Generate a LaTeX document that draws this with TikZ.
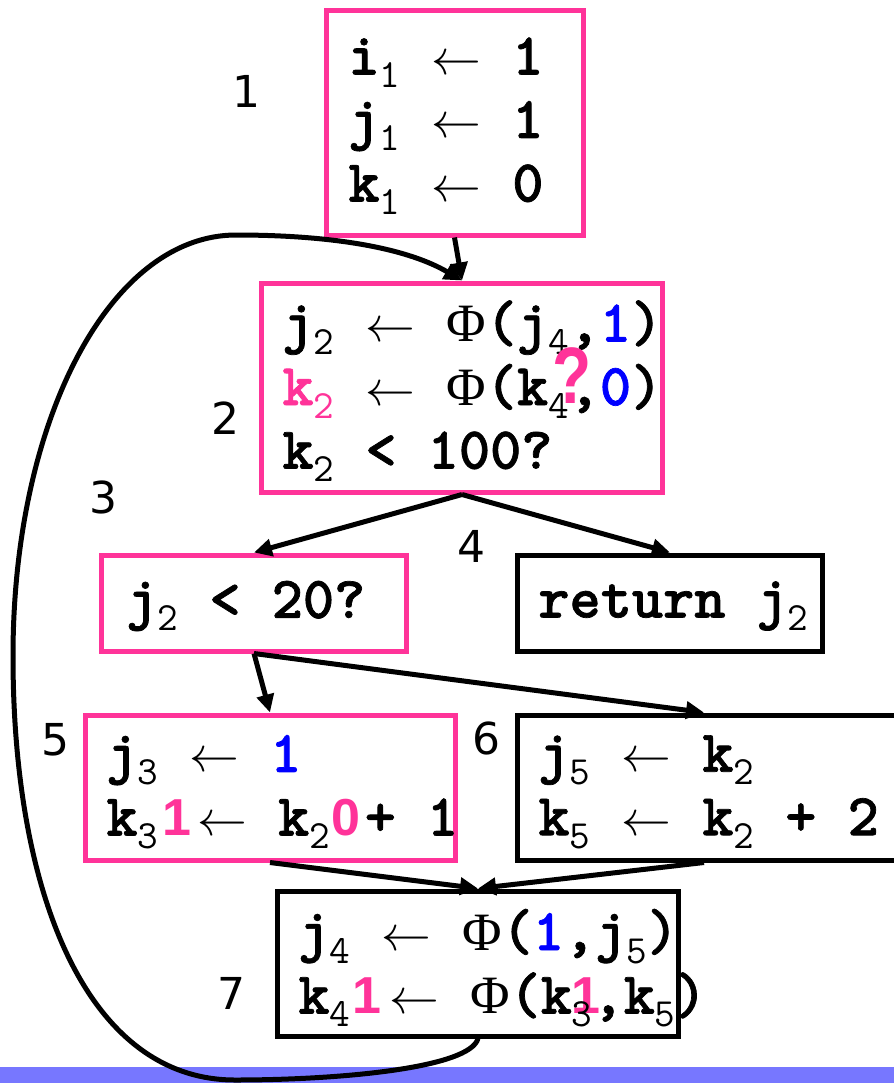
\documentclass[tikz,border=0pt]{standalone}
\usepackage{fontspec}
\newfontfamily\arrfont{Liberation Serif}
\newfontfamily\numfont{DejaVu Sans}
\newfontfamily\markfont{Liberation Sans}
\newfontfamily\codefont{lmmonolt10-bold.otf}[FakeBold=1.2]
\usetikzlibrary{arrows.meta}
\definecolor{hotpink}{RGB}{255,51,153}
\definecolor{barblue}{RGB}{119,119,255}
\newcommand{\idx}[1]{\raisebox{-6.5pt}{\ttfamily\mdseries\fontsize{20}{20}\selectfont #1}}
\newcommand{\asg}{{\fontsize{25}{25}\selectfont$\leftarrow$}}
\newcommand{\Phs}{{\arrfont\mdseries\fontsize{27}{27}\selectfont Φ}}
\newcommand{\blu}[1]{\textcolor{blue}{#1}}
\newcommand{\pnk}[1]{\textcolor{hotpink}{#1}}
\newcommand{\pone}{\pnk{\markfont\bfseries\fontsize{26}{26}\selectfont 1}}
\newcommand{\pzero}{\pnk{\markfont\bfseries\fontsize{26}{26}\selectfont 0}}

\begin{document}
\begin{tikzpicture}[x=0.5pt, y=-0.5pt,
  >={Triangle[length=9pt,width=8.5pt]},
  blk/.style={rectangle, draw=hotpink, line width=2.5pt, inner sep=0pt},
  blkb/.style={blk, draw=black},
  code/.style={anchor=west, align=left, inner sep=0pt, font=\codefont\fontsize{29.7}{31.75}\selectfont},
  num/.style={font=\numfont\fontsize{22}{22}\selectfont, inner sep=0pt},
  e/.style={->, line width=2.5pt},
]
\useasboundingbox (0,0) rectangle (894,1083);
\clip (0,0) rectangle (894,1083);
\fill[barblue] (0,1067) rectangle (894,1083);

\node[blk, minimum width=128.5pt, minimum height=112.5pt] (b1) at (454.5,122.5) {};
\node[blk, minimum width=200.5pt, minimum height=104.5pt] (b2) at (462,387.5) {};
\node[blk, minimum width=152.5pt, minimum height=48pt] (b3) at (254,603) {};
\node[blkb, minimum width=152.5pt, minimum height=48pt] (b4) at (670,603) {};
\node[blk, minimum width=185pt, minimum height=72.5pt] (b5) at (270,787.5) {};
\node[blkb, minimum width=194pt, minimum height=72.5pt] (b6) at (711,787.5) {};
\node[blkb, minimum width=200.5pt, minimum height=72.5pt] (b7) at (478,963.5) {};

\node[code] (t1) at (348,126) {i\idx{1} \asg{} 1\\ j\idx{1} \asg{} 1\\ k\idx{1} \asg{} 0};
\node[code] (t2) at (282,391) {j\idx{2} \asg{} \Phs(j\idx{4},\blu{1})\\ \pnk{k\idx{2}} \asg{} \Phs(k\idx{4},\blu{0})\\ k\idx{2} < 100?};
\node[code] (t3) at (126,606) {j\idx{2} < 20?};
\node[code] (t4) at (538,606) {return j\idx{2}};
\node[code] (t5) at (106,792) {j\idx{3} \asg{} \blu{1}\\ k\idx{3}\kern2pt\pone\kern3pt\asg{} k\idx{2}\kern1pt\pzero\kern2pt+ 1};
\node[code] (t6) at (538,792) {j\idx{5} \asg{} k\idx{2}\\ k\idx{5} \asg{} k\idx{2} + 2};
\node[code] (t7) at (298,968) {j\idx{4} \asg{} \Phs(\blu{1},j\idx{5})\\ k\idx{4}\kern1pt\pone\kern4pt\asg{} \Phs(k\rlap{\pone}\idx{3},k\idx{5})};
\node[text=hotpink, inner sep=0pt, font=\markfont\bfseries\fontsize{40}{40}\selectfont] (q) at (572,376) {\scalebox{0.8}[1]{?}};

\node[num] (n1) at (246,91) {1};
\node[num] (n2) at (225,418) {2};
\node[num] (n3) at (103,497) {3};
\node[num] (n4) at (471,546) {4};
\node[num] (n5) at (55,740) {5};
\node[num] (n6) at (486,738) {6};
\node[num] (n7) at (231,993) {7};

\draw[e] (b1.south) -- (b2.north);
\draw[e] (b2.south) -- (b3.north);
\draw[e] (b2.south) -- (b4.north);
\draw[e] (b3.south) -- (b5.north);
\draw[e] (b3.south) -- ([xshift=-3.5pt]b6.north);
\draw[e] (b5.south) -- (b7.north);
\draw[e] ([xshift=-3.5pt]b6.south) -- (b7.north);
% back edge 7 -> 2
\coordinate (lb) at (235,1080);
\coordinate (lm) at (13,656);
\coordinate (lt) at (236,235);
\draw[e] (b7.south) .. controls (470,1068) and (340,1080) .. (lb)
  .. controls (90,1080) and (13,900) .. (lm)
  .. controls (13,420) and (110,235) .. (lt)
  .. controls (340,235) and (410,250) .. (b2.north);
\end{tikzpicture}
\end{document}
